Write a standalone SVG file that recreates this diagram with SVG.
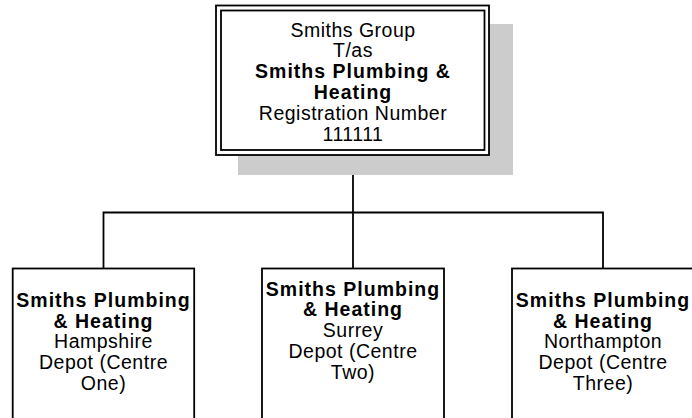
<svg xmlns="http://www.w3.org/2000/svg" width="692" height="418" viewBox="0 0 692 418">
<style>
.t{font-family:"Liberation Sans",Arial,sans-serif;font-size:19.5px;fill:#000;text-anchor:middle;letter-spacing:0.5px}
.b{font-weight:bold;letter-spacing:1px}
.box{fill:#fff;stroke:#000;stroke-width:1.8}
.ln{fill:none;stroke:#000;stroke-width:1.8}
</style>
<rect width="692" height="418" fill="#fff"/>
<g id="connectors">
<line class="ln" x1="353" y1="155" x2="353" y2="268.5" stroke-width="2.2"/>
<polyline class="ln" points="103.5,268.5 103.5,212.5 603,212.5 603,268.5"/>
</g>
<g id="top">
<rect x="238" y="24" width="275" height="151" fill="#cccccc"/>
<rect class="box" x="216" y="5.5" width="273" height="149.5"/>
<rect class="box" x="221" y="10.5" width="263.5" height="139.5"/>
<text class="t" x="353" y="36.5">Smiths Group</text>
<text class="t" x="353" y="57.3">T/as</text>
<text class="t b" x="353" y="78.1">Smiths Plumbing &amp;</text>
<text class="t b" x="353" y="98.9">Heating</text>
<text class="t" x="353" y="119.7">Registration Number</text>
<text class="t" x="353" y="140.5">111111</text>
</g>
<g id="hampshire">
<rect class="box" x="12.7" y="268.5" width="181.5" height="170"/>
<text class="t b" x="103.5" y="306.7">Smiths Plumbing</text>
<text class="t b" x="103.5" y="327.5">&amp; Heating</text>
<text class="t" x="103.5" y="348.3">Hampshire</text>
<text class="t" x="103.5" y="369.1">Depot (Centre</text>
<text class="t" x="103.5" y="389.9">One)</text>
</g>
<g id="surrey">
<rect class="box" x="262" y="268.5" width="182" height="170"/>
<text class="t b" x="353" y="295.5">Smiths Plumbing</text>
<text class="t b" x="353" y="316.3">&amp; Heating</text>
<text class="t" x="353" y="337.1">Surrey</text>
<text class="t" x="353" y="357.9">Depot (Centre</text>
<text class="t" x="353" y="378.7">Two)</text>
</g>
<g id="northampton">
<rect class="box" x="512" y="268.5" width="182" height="170"/>
<text class="t b" x="603" y="306.7">Smiths Plumbing</text>
<text class="t b" x="603" y="327.5">&amp; Heating</text>
<text class="t" x="603" y="348.3">Northampton</text>
<text class="t" x="603" y="369.1">Depot (Centre</text>
<text class="t" x="603" y="389.9">Three)</text>
</g>
</svg>
